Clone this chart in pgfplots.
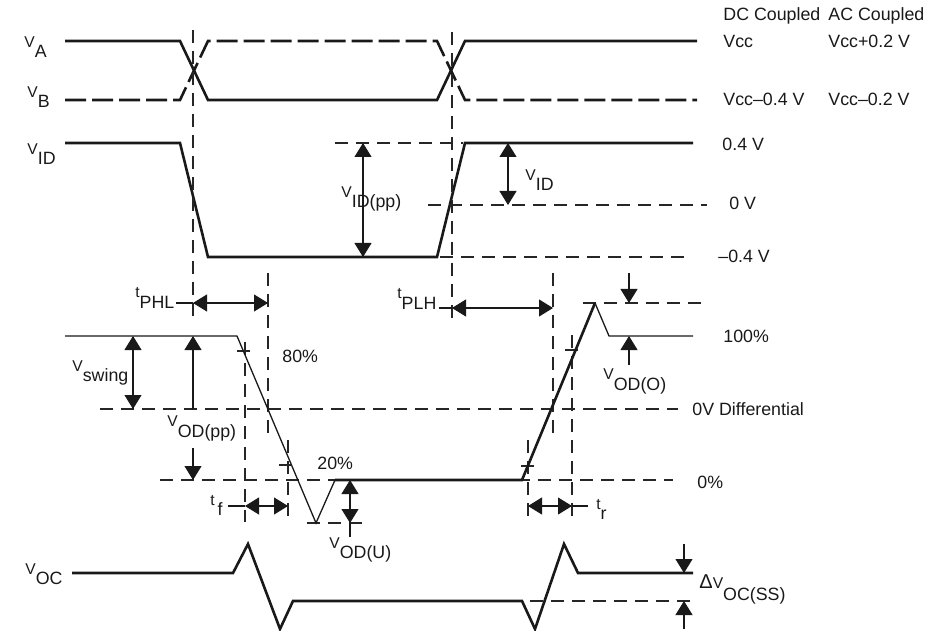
\documentclass[border=0pt]{standalone}
\usepackage{pgfplots}
\pgfplotsset{compat=1.18}
\usepackage{fontspec}
\setmainfont{Liberation Sans}
\usetikzlibrary{arrows.meta}
% small raised letter followed by full-size subscript, TI datasheet style
\newcommand{\sg}[2]{\raisebox{5pt}{\fontsize{7.8}{8}\selectfont #1}#2}
\tikzset{
  lab/.style={anchor=base west, inner sep=0pt, font=\fontsize{8.9}{10}\selectfont, text=black!90},
  thk/.style={line width=1.3pt, color=black!90},
  thn/.style={line width=0.65pt, color=black!90},
  dsh/.style={line width=0.6pt, color=black!85, dash pattern=on 6.5pt off 4pt},
  dshb/.style={line width=1.3pt, color=black!90, dash pattern=on 10.5pt off 3pt},
  arr/.style={line width=0.55pt, color=black!90},
  dbl/.style={arr, arrows={Triangle[length=7pt,width=8.5pt]-Triangle[length=7pt,width=8.5pt]}},
  one/.style={arr, arrows={-Triangle[length=7pt,width=8.5pt]}},
}
\begin{document}
\begin{tikzpicture}
\begin{axis}[
    x=0.5pt, y=0.5pt, y dir=reverse,
    xmin=0, xmax=930, ymin=0, ymax=630,
    hide axis, clip=false, scale only axis,
  ]
  \path (axis cs:0,0) rectangle (axis cs:930,630);

  % input pair VA / VB
  \addplot[thk] coordinates {(65,41) (180,41) (208,100) (437,100) (465,41) (697,41)};
  \addplot[dshb] coordinates {(65,100) (180,100) (208,41) (437,41) (465,100) (697,100)};
  % differential input VID
  \addplot[thk] coordinates {(65,143) (180,143) (208,257) (437,257) (465,143) (693,143)};

  % reference dashed lines
  \addplot[dsh] coordinates {(193,30) (193,316)};
  \addplot[dsh] coordinates {(452,32) (452,322)};
  \addplot[dsh] coordinates {(268,273) (268,433)};
  \addplot[dsh] coordinates {(553,273) (553,433)};
  \addplot[dsh] coordinates {(245,342) (245,522)};
  \addplot[dsh] coordinates {(288,440) (288,522)};
  \addplot[dsh] coordinates {(528,440) (528,522)};
  \addplot[dsh] coordinates {(572,335) (572,522)};
  \addplot[dsh] coordinates {(335,143) (463,143)};
  \addplot[dsh] coordinates {(428,205) (707,205)};
  \addplot[dsh] coordinates {(440,257) (689,257)};
  \addplot[dsh] coordinates {(583,303) (705,303)};
  \addplot[dsh] coordinates {(100,409) (678,409)};
  \addplot[dsh] coordinates {(160,480) (673,480)};
  \addplot[dsh] coordinates {(307,523) (366,523)};
  \addplot[dsh] coordinates {(530,601) (693,601)};
  % 80% / 20% ticks
  \addplot[dsh] coordinates {(237,351) (254,351)};
  \addplot[dsh] coordinates {(279,465) (297,465)};
  \addplot[dsh] coordinates {(521,466) (540,466)};
  \addplot[dsh] coordinates {(565,350) (582,350)};

  % differential output
  \addplot[thn] coordinates {(65,336) (237,336) (316,523) (335,480)};
  \addplot[thk] coordinates {(335,480) (522,480) (595,303)};
  \addplot[thn] coordinates {(595,303) (609,336) (693,336)};

  % common-mode output VOC
  \addplot[thk] coordinates {(72,573) (233,573) (248,544) (280,629) (293,601) (522,601)
                             (535,629) (564,544) (578,573) (693,573)};

  % dimension arrows
  \addplot[dbl] coordinates {(363,143) (363,257)};
  \addplot[dbl] coordinates {(508,143) (508,205)};
  \addplot[arr] coordinates {(176,303) (193,303)};
  \addplot[dbl] coordinates {(193,303) (268,303)};
  \addplot[arr] coordinates {(439,308) (452,308)};
  \addplot[dbl] coordinates {(452,308) (553,308)};
  \addplot[dbl] coordinates {(133,336) (133,409)};
  \addplot[one] coordinates {(193,409) (193,336)};
  \addplot[one] coordinates {(193,448) (193,480)};
  \addplot[one] coordinates {(629,273) (629,303)};
  \addplot[one] coordinates {(629,365) (629,336)};
  \addplot[arr] coordinates {(228,506) (245,506)};
  \addplot[dbl] coordinates {(245,506) (288,506)};
  \addplot[dbl] coordinates {(528,506) (572,506)};
  \addplot[arr] coordinates {(572,506) (588,506)};
  \addplot[dbl] coordinates {(350,480) (350,523)};
  \addplot[arr] coordinates {(350,523) (350,537)};
  \addplot[one] coordinates {(684,544) (684,573)};
  \addplot[one] coordinates {(684,629) (684,601)};

  % labels
  \node[lab] at (axis cs:723,21) {DC Coupled};
  \node[lab] at (axis cs:828,21) {AC Coupled};
  \node[lab] at (axis cs:723,48) {Vcc};
  \node[lab] at (axis cs:828,48) {Vcc+0.2 V};
  \node[lab] at (axis cs:723,106) {Vcc–0.4 V};
  \node[lab] at (axis cs:828,106) {Vcc–0.2 V};
  \node[lab] at (axis cs:722,151) {0.4 V};
  \node[lab] at (axis cs:729,210) {0 V};
  \node[lab] at (axis cs:718,263) {–0.4 V};
  \node[lab] at (axis cs:723,343) {100\%};
  \node[lab] at (axis cs:692,415) {0V Differential};
  \node[lab] at (axis cs:697,488) {0\%};
  \node[lab] at (axis cs:282,362) {80\%};
  \node[lab] at (axis cs:317,469) {20\%};

  \node[lab] at (axis cs:24,58) {\sg{V}{A}};
  \node[lab] at (axis cs:27,108) {\sg{V}{B}};
  \node[lab] at (axis cs:27,165) {\sg{V}{ID}};
  \node[lab] at (axis cs:341,208) {\sg{V}{ID(pp)}};
  \node[lab] at (axis cs:525,191) {\sg{V}{ID}};
  \node[lab] at (axis cs:135,308) {\sg{t}{PHL}};
  \node[lab] at (axis cs:397,309) {\sg{t}{PLH}};
  \node[lab] at (axis cs:72,381) {\sg{V}{swing}};
  \node[lab] at (axis cs:167,437) {\sg{V}{OD(pp)}};
  \node[lab] at (axis cs:329,558) {\sg{V}{OD(U)}};
  \node[lab] at (axis cs:603,390) {\sg{V}{OD(O)}};
  \node[lab] at (axis cs:210,515) {\sg{t}{\,f}};
  \node[lab] at (axis cs:596,519) {\sg{t}{r}};
  \node[lab] at (axis cs:25,584) {\sg{V}{OC}};
  \node[lab] at (axis cs:699,600) {\raisebox{6pt}{{\fontsize{10}{10}\selectfont Δ}{\fontsize{7.8}{8}\selectfont V}}OC(SS)};
\end{axis}
\end{tikzpicture}
\end{document}
